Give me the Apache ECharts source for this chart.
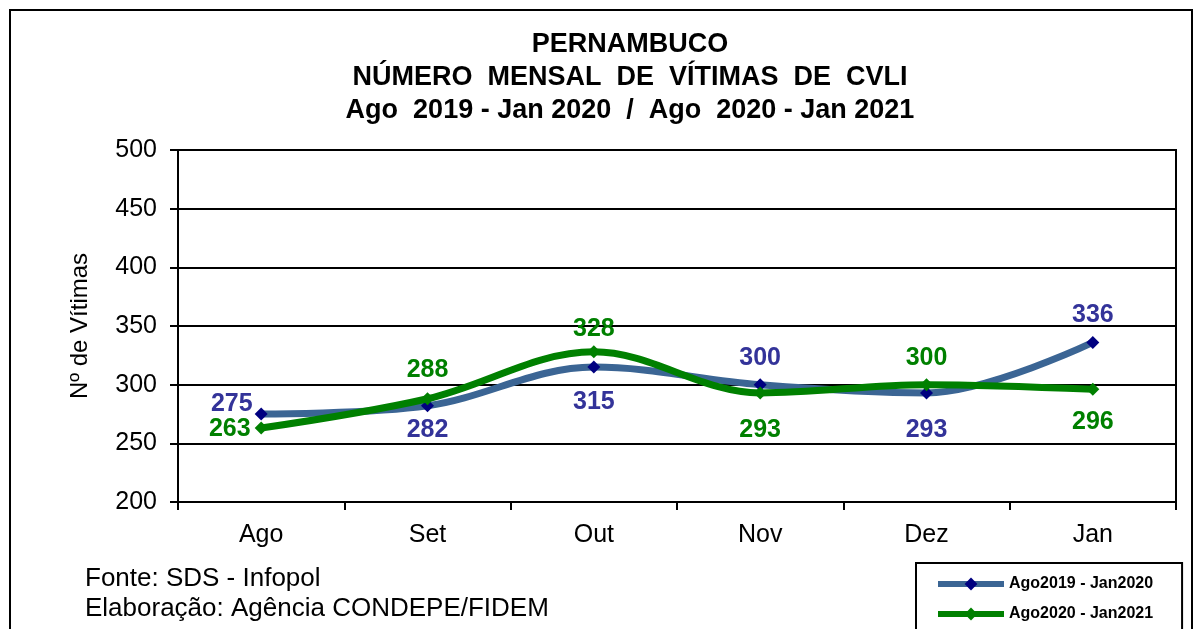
<!DOCTYPE html>
<html>
<head>
<meta charset="utf-8">
<script src="https://cdn.jsdelivr.net/npm/echarts@6/dist/echarts.min.js"></script>
<style>
  html, body { margin: 0; padding: 0; background: #fff; }
  #main { width: 1203px; height: 629px; }
</style>
</head>
<body>
<div id="main"></div>
<script>
// meses
const months = ['Ago', 'Set', 'Out', 'Nov', 'Dez', 'Jan'];
// Ago2019 - Jan2020
const serie2019 = [275, 282, 315, 300, 293, 336];
// Ago2020 - Jan2021
const serie2020 = [263, 288, 328, 293, 300, 296];
const seriesNames = ['Ago2019 - Jan2020', 'Ago2020 - Jan2021'];
const yTicks = [200, 250, 300, 350, 400, 450, 500];

// posição dos rótulos de cada ponto (como no original)
const labelPos2019 = [['left', 2], ['bottom', 5], ['bottom', 16], ['top', 8], ['bottom', 18], ['top', 8]];
const labelPos2020 = [['left', 4], ['top', 10], ['top', 4], ['bottom', 18], ['top', 8], ['bottom', 14]];

const font = 'Liberation Sans, Arial, sans-serif';

function buildData(values, pos, color, firstOffset) {
  const out = [];
  for (let i = 0; i < values.length; i++) {
    const lbl = {
      show: true,
      position: pos[i][0],
      distance: pos[i][1],
      color: color,
      fontSize: 25,
      fontWeight: 'bold',
      fontFamily: font
    };
    if (i === 0) lbl.offset = [0, firstOffset];
    out.push({ value: values[i], label: lbl });
  }
  return out;
}

const myChart = echarts.init(document.getElementById('main'));

const option = {
  backgroundColor: '#fff',
  animation: false,
  title: {
    text: 'PERNAMBUCO\nNÚMERO  MENSAL  DE  VÍTIMAS  DE  CVLI\nAgo  2019 - Jan 2020  /  Ago  2020 - Jan 2021',
    left: 625,
    top: 23,
    textAlign: 'center',
    textStyle: {
      fontFamily: font,
      fontSize: 27,
      fontWeight: 'bold',
      color: '#000',
      lineHeight: 33
    }
  },
  graphic: [
    {
      type: 'rect',
      shape: { x: 10, y: 10, width: 1182, height: 700 },
      style: { fill: 'none', stroke: '#000', lineWidth: 2 },
      silent: true
    },
    {
      type: 'text',
      left: 85,
      top: 564,
      style: {
        text: 'Fonte: SDS - Infopol\nElaboração: Agência CONDEPE/FIDEM',
        fontFamily: font,
        fontSize: 26,
        lineHeight: 30,
        fill: '#000'
      }
    }
  ],
  legend: {
    orient: 'vertical',
    left: 916,
    top: 563,
    height: 90,
    padding: [13, 29, 16, 19],
    itemGap: 14,
    itemWidth: 66,
    itemHeight: 16,
    borderColor: '#000',
    borderWidth: 2,
    textStyle: {
      fontFamily: font,
      fontSize: 16,
      fontWeight: 'bold',
      color: '#000'
    },
    data: [
      { name: seriesNames[0], lineStyle: { width: 6 } },
      { name: seriesNames[1], lineStyle: { width: 6 } }
    ]
  },
  grid: {
    left: 178,
    right: 27,
    top: 150,
    bottom: 127,
    show: true,
    borderColor: '#000',
    borderWidth: 2
  },
  xAxis: {
    type: 'category',
    data: months,
    boundaryGap: true,
    axisLine: { lineStyle: { color: '#000', width: 2 } },
    axisTick: { show: true, length: 8, lineStyle: { color: '#000', width: 2 } },
    axisLabel: { color: '#000', fontSize: 25, fontFamily: font, margin: 21 }
  },
  yAxis: {
    type: 'value',
    min: yTicks[0],
    max: yTicks[yTicks.length - 1],
    interval: 50,
    name: 'Nº de Vítimas',
    nameLocation: 'middle',
    nameGap: 86,
    nameRotate: 90,
    nameTextStyle: { color: '#000', fontSize: 24, fontFamily: font },
    axisLine: { show: true, lineStyle: { color: '#000', width: 2 } },
    axisTick: { show: true, length: 8, lineStyle: { color: '#000', width: 2 } },
    axisLabel: { color: '#000', fontSize: 25, fontFamily: font, margin: 21 },
    splitLine: { show: true, lineStyle: { color: '#000', width: 2 } }
  },
  series: [
    {
      name: seriesNames[0],
      type: 'line',
      smooth: 0.35,
      symbol: 'diamond',
      symbolSize: 13,
      lineStyle: { color: '#3b6594', width: 7 },
      itemStyle: { color: '#000080', borderWidth: 0 },
      data: buildData(serie2019, labelPos2019, '#333399', -10),
      z: 2
    },
    {
      name: seriesNames[1],
      type: 'line',
      smooth: 0.35,
      symbol: 'diamond',
      symbolSize: 13,
      lineStyle: { color: '#008000', width: 7 },
      itemStyle: { color: '#008000', borderWidth: 0 },
      data: buildData(serie2020, labelPos2020, '#008000', 1),
      z: 3
    }
  ]
};

myChart.setOption(option);
</script>
</body>
</html>
